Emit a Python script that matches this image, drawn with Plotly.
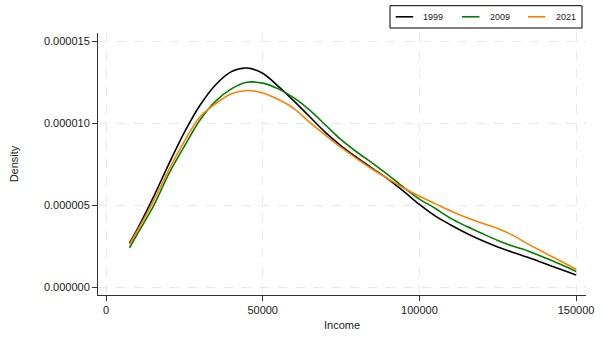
import plotly.graph_objects as go

income = [7500, 10000, 15000, 20000, 25000, 30000, 35000, 40000, 45000, 50000,
          55000, 60000, 65000, 70000, 75000, 80000, 85000, 90000, 95000, 100000,
          105000, 110000, 115000, 120000, 125000, 130000, 135000, 140000, 145000, 150000]

d1999 = [2.70, 3.55, 5.45, 7.50, 9.45, 11.10, 12.35, 13.15, 13.37, 13.05,
         12.25, 11.35, 10.40, 9.45, 8.63, 7.92, 7.25, 6.60, 5.85, 5.05,
         4.35, 3.80, 3.30, 2.85, 2.46, 2.12, 1.80, 1.45, 1.10, 0.75]
d2009 = [2.41, 3.25, 4.90, 6.90, 8.60, 10.20, 11.35, 12.10, 12.50, 12.45,
         12.10, 11.55, 10.80, 9.90, 9.00, 8.25, 7.57, 6.85, 6.09, 5.38,
         4.82, 4.20, 3.72, 3.28, 2.86, 2.50, 2.19, 1.80, 1.40, 0.96]
d2021 = [2.62, 3.45, 5.20, 7.15, 8.90, 10.40, 11.20, 11.80, 12.00, 11.85,
         11.45, 10.90, 10.05, 9.28, 8.53, 7.85, 7.20, 6.62, 6.05, 5.55,
         5.10, 4.65, 4.25, 3.90, 3.58, 3.15, 2.60, 2.10, 1.60, 1.10]

series = [("1999", d1999, "#000000"), ("2009", d2009, "#008000"), ("2021", d2021, "#ff8000")]

x_ticks = [0, 50000, 100000, 150000]
y_ticks = [0.0, 0.000005, 0.000010, 0.000015]
y_labels = ["0.000000", "0.000005", "0.000010", "0.000015"]

fam = "Liberation Sans, Arial, sans-serif"

fig = go.Figure()
for name, vals, color in series:
    fig.add_trace(go.Scatter(
        x=income, y=[v * 1e-6 for v in vals], name=name, mode="lines",
        line=dict(color=color, width=1.6, shape="spline", smoothing=0.9),
        showlegend=False,
    ))

# legend drawn in paper coordinates (plot area: 98..586 px wide, 33..295 px tall)
L, R, T, B = 98, 586, 33, 295
def px(xp):
    return (xp - L) / (R - L)
def py(yp):
    return (B - yp) / (B - T)

shapes = [dict(type="rect", xref="paper", yref="paper",
               x0=px(390), x1=px(582), y0=py(28), y1=py(5.7),
               line=dict(color="#000000", width=1), fillcolor="white", layer="above")]
annotations = []
item_x = [395.7, 462, 528]
for (name, vals, color), x0 in zip(series, item_x):
    shapes.append(dict(type="line", xref="paper", yref="paper",
                       x0=px(x0), x1=px(x0 + 17.5), y0=py(16.8), y1=py(16.8),
                       line=dict(color=color, width=1.6), layer="above"))
    annotations.append(dict(xref="paper", yref="paper", x=px(x0 + 25.5), y=py(16.8),
                            text=name, showarrow=False, xanchor="left", yanchor="middle",
                            font=dict(family=fam, size=9, color="#222222")))

fig.update_layout(
    width=604, height=337,
    margin=dict(l=98, r=18, t=33, b=42, autoexpand=False),
    paper_bgcolor="white", plot_bgcolor="white",
    font=dict(family=fam, color="#222222", size=11),
    showlegend=False,
    shapes=shapes, annotations=annotations,
    xaxis=dict(
        range=[-2553, 153160], tickvals=x_ticks, ticktext=[str(v) for v in x_ticks],
        showline=True, linecolor="#333333", linewidth=1,
        ticks="outside", ticklen=5, tickcolor="#333333",
        showgrid=True, gridcolor="#e8e8e8", griddash="dash", gridwidth=1,
        zeroline=False, automargin=False,
        title=dict(text="Income", font=dict(size=11), standoff=6),
    ),
    yaxis=dict(
        range=[-4.7e-7, 1.5506e-5], tickvals=y_ticks, ticktext=y_labels,
        showline=True, linecolor="#333333", linewidth=1,
        ticks="outside", ticklen=5, tickcolor="#333333",
        showgrid=True, gridcolor="#e8e8e8", griddash="dash", gridwidth=1,
        zeroline=False, automargin=False,
        title=dict(text="Density", font=dict(size=11), standoff=23),
    ),
)

fig.write_html("out.html")
